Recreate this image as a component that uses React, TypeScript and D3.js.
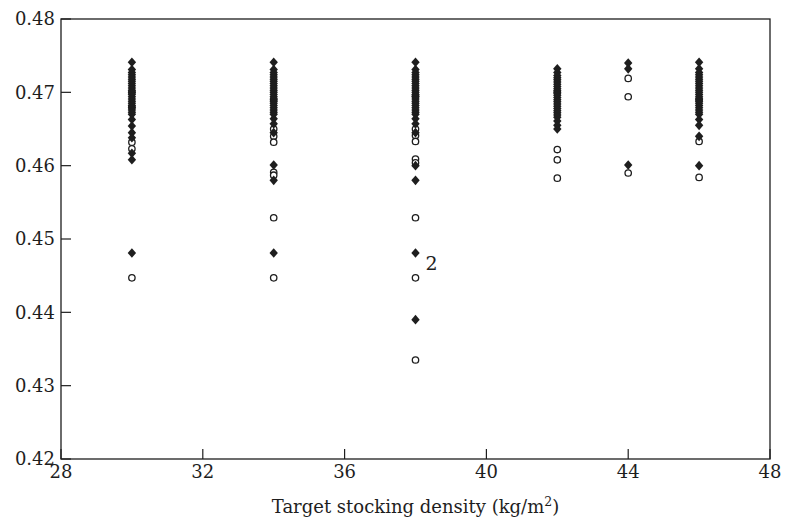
import React from 'react';
import * as d3 from 'd3';

// target stocking density columns (kg/m2)
const densities = [30, 34, 38, 42, 44, 46];

// filled diamonds, one array per density
const filled30 = [0.4741, 0.4731, 0.4727, 0.4724, 0.4721, 0.4718, 0.4715, 0.4712, 0.4709, 0.4706, 0.4703, 0.47, 0.4697, 0.4694, 0.4691, 0.4688, 0.4685, 0.4682, 0.4679, 0.4676, 0.4673, 0.467, 0.4663, 0.4654, 0.4645, 0.4638, 0.4617, 0.4608, 0.4481];
const filled34 = [0.4741, 0.4731, 0.4727, 0.4724, 0.4721, 0.4718, 0.4715, 0.4712, 0.4709, 0.4706, 0.4703, 0.47, 0.4697, 0.4694, 0.4691, 0.4688, 0.4685, 0.4682, 0.4679, 0.4676, 0.4673, 0.467, 0.4664, 0.4657, 0.4645, 0.4601, 0.458, 0.4481];
const filled38 = [0.4741, 0.4731, 0.4727, 0.4724, 0.4721, 0.4718, 0.4715, 0.4712, 0.4709, 0.4706, 0.4703, 0.47, 0.4697, 0.4694, 0.4691, 0.4688, 0.4685, 0.4682, 0.4679, 0.4676, 0.4673, 0.467, 0.4664, 0.4657, 0.4645, 0.46, 0.458, 0.4481, 0.439];
const filled42 = [0.4732, 0.4727, 0.4723, 0.472, 0.4717, 0.4714, 0.4711, 0.4708, 0.4705, 0.4702, 0.4699, 0.4696, 0.4693, 0.469, 0.4687, 0.4684, 0.4681, 0.4678, 0.4675, 0.4672, 0.4669, 0.4666, 0.4661, 0.4655, 0.465];
const filled44 = [0.474, 0.4732, 0.4601];
const filled46 = [0.4741, 0.4732, 0.4727, 0.4724, 0.4721, 0.4718, 0.4715, 0.4712, 0.4709, 0.4706, 0.4703, 0.47, 0.4697, 0.4694, 0.4691, 0.4688, 0.4685, 0.4682, 0.4679, 0.4676, 0.4673, 0.467, 0.4663, 0.4655, 0.464, 0.46];

// open circles
const open30 = [0.47, 0.468, 0.4632, 0.4623, 0.4447];
const open34 = [0.469, 0.465, 0.464, 0.4632, 0.4591, 0.4587, 0.4529, 0.4447];
const open38 = [0.4695, 0.465, 0.4641, 0.4633, 0.4609, 0.4604, 0.4529, 0.4447, 0.4335];
const open42 = [0.47, 0.4622, 0.4608, 0.4583];
const open44 = [0.4719, 0.4694, 0.459];
const open46 = [0.469, 0.4633, 0.4584];

const filledByDensity = [filled30, filled34, filled38, filled42, filled44, filled46];
const openByDensity = [open30, open34, open38, open42, open44, open46];

const xTicks = [28, 32, 36, 40, 44, 48];
const yTicks = [0.42, 0.43, 0.44, 0.45, 0.46, 0.47, 0.48];

// annotation "2" next to the point
const note = { x: 38, y: 0.4467, text: '2' };

const W = 785;
const H = 522;
const left = 61, right = 770, top = 19, bottom = 459;

const font = '"DejaVu Serif", serif';
const ink = '#1e1e1e';

const App = () => {
  const x = d3.scaleLinear().domain([28, 48]).range([left, right]);
  const y = d3.scaleLinear().domain([0.42, 0.48]).range([bottom, top]);

  const diamond = 'M0,-4.8L4.2,0L0,4.8L-4.2,0Z';

  return (
    <svg width={W} height={H} style={{ position: 'absolute', left: 0, top: 0, background: '#fff' }}>
      {/* open circles first, diamonds on top */}
      <g>
        {densities.map((d, i) =>
          openByDensity[i].map((v, j) => (
            <circle key={`o${i}-${j}`} cx={x(d)} cy={y(v)} r={3.2} fill="#fff" stroke={ink} strokeWidth={1.3} />
          ))
        )}
      </g>
      <g>
        {densities.map((d, i) =>
          filledByDensity[i].map((v, j) => (
            <path key={`f${i}-${j}`} d={diamond} transform={`translate(${x(d)},${y(v)})`} fill={ink} />
          ))
        )}
      </g>

      {/* frame */}
      <rect x={left} y={top} width={right - left} height={bottom - top} fill="none" stroke={ink} strokeWidth={1.3} />

      {/* y axis */}
      {yTicks.map(t => (
        <g key={`y${t}`}>
          <line x1={left} x2={left + 10} y1={y(t)} y2={y(t)} stroke={ink} strokeWidth={1.2} />
          <text x={left - 6} y={y(t)} dy="0.35em" textAnchor="end" fontFamily={font} fontSize={18} fill={ink}>
            {t.toFixed(2)}
          </text>
        </g>
      ))}

      {/* x axis */}
      {xTicks.map(t => (
        <g key={`x${t}`}>
          <line x1={x(t)} x2={x(t)} y1={bottom} y2={bottom - 10} stroke={ink} strokeWidth={1.2} />
          <text x={x(t)} y={bottom + 19} textAnchor="middle" fontFamily={font} fontSize={18} fill={ink}>
            {t}
          </text>
        </g>
      ))}

      <text x={(left + right) / 2} y={513} textAnchor="middle" fontFamily={font} fontSize={18} fill={ink}>
        Target stocking density (kg/m
        <tspan fontSize={12.5} dy={-7}>2</tspan>
        <tspan dy={7}>)</tspan>
      </text>

      <text x={x(note.x) + 10} y={y(note.y)} dy="0.35em" fontFamily={font} fontSize={19} fill={ink}>
        {note.text}
      </text>
    </svg>
  );
};

export default App;
